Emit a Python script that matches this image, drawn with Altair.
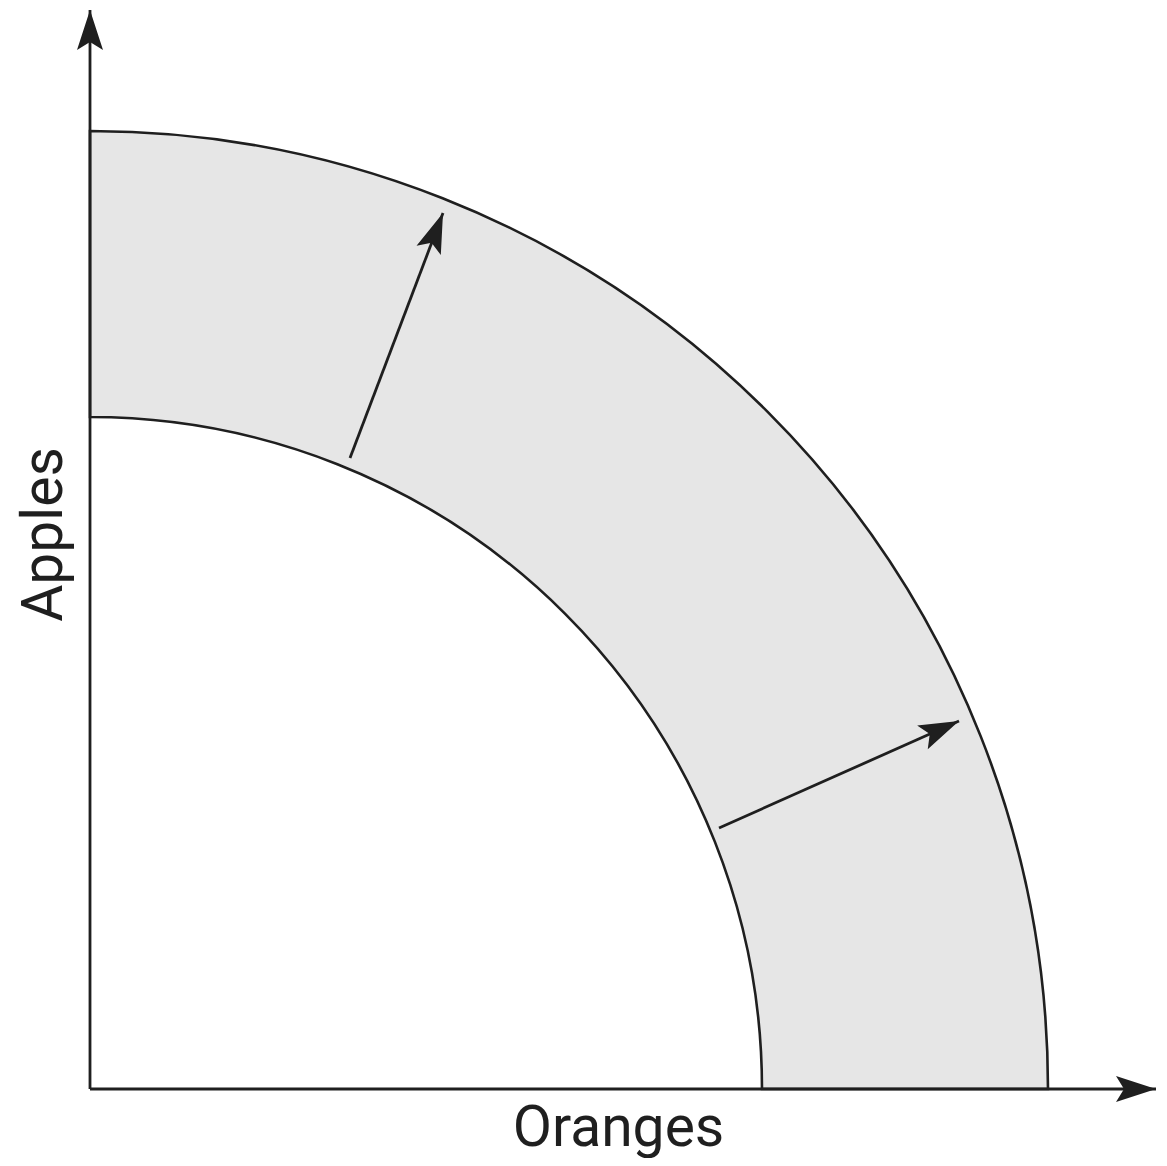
import altair as alt
import pandas as pd

# ---- values (1 data unit = 1 reference pixel) ----
# production possibilities frontiers (quarter circles around the origin)
frontier_inner_radius = [672]
frontier_outer_radius = [958]
frontier_start_deg = [0]
frontier_end_deg = [90]

# axes and shift arrows: start point, end (tip) point, heading in degrees
arrow_names = ["Apples axis", "Oranges axis", "shift 1", "shift 2"]
arrow_x0 = [0, 0, 260, 629]
arrow_y0 = [0, 0, 631, 261]
arrow_x1 = [0, 1066, 353, 869]
arrow_y1 = [1079, 0, 876, 368]
arrow_heading = [0, 90, 21, 66]

x_title = "Oranges"
y_title = "Apples"

W, H = 1067, 1081
INK = "#1f1f1f"

band_df = pd.DataFrame({
    "cx": [0], "cy": [0],
    "r_in": frontier_inner_radius, "r_out": frontier_outer_radius,
    "t0": frontier_start_deg, "t1": frontier_end_deg,
})
arrows_df = pd.DataFrame({
    "name": arrow_names, "x0": arrow_x0, "y0": arrow_y0,
    "x1": arrow_x1, "y1": arrow_y1, "heading": arrow_heading,
})

xs = alt.Scale(domain=[0, W], nice=False, zero=False)
ys = alt.Scale(domain=[0, H], nice=False, zero=False)

x_axis = alt.Axis(domain=False, ticks=False, labels=False, grid=False,
                  title=x_title, titleFont="Roboto", titleFontSize=57,
                  titleFontWeight="normal", titleColor=INK,
                  titleX=528, titleY=56, titleAlign="center",
                  titleBaseline="alphabetic", titleAngle=0)
y_axis = alt.Axis(domain=False, ticks=False, labels=False, grid=False,
                  title=y_title, titleFont="Roboto", titleFontSize=57,
                  titleFontWeight="normal", titleColor=INK,
                  titleX=-29, titleY=526, titleAlign="center",
                  titleBaseline="alphabetic", titleAngle=270)

band = alt.Chart(band_df).mark_arc(
    fill="#e6e6e6", stroke=INK, strokeWidth=2.6
).encode(
    x=alt.X("cx:Q", scale=xs, axis=x_axis),
    y=alt.Y("cy:Q", scale=ys, axis=y_axis),
    radius=alt.Radius("r_out:Q", scale=alt.Scale(type="linear", domain=[0, W], range=[0, W], zero=True)),
    radius2="r_in:Q",
    theta=alt.Theta("t0:Q", scale=alt.Scale(domain=[0, 360]), stack=False),
    theta2="t1:Q",
)

shafts = alt.Chart(arrows_df).mark_rule(color=INK, strokeWidth=2.8).encode(
    x=alt.X("x0:Q", scale=xs),
    y=alt.Y("y0:Q", scale=ys),
    x2="x1:Q",
    y2="y1:Q",
)

ARROW = "M0,0 L0.65,2 L0,1.6 L-0.65,2 Z"
heads = alt.Chart(arrows_df).mark_point(
    shape=ARROW, size=1600, filled=True, fill=INK, strokeWidth=0, opacity=1
).encode(
    x=alt.X("x1:Q", scale=xs),
    y=alt.Y("y1:Q", scale=ys),
    angle=alt.Angle("heading:Q", scale=alt.Scale(domain=[0, 360], range=[0, 360])),
)

chart = alt.layer(band, shafts, heads).properties(
    width=W, height=H,
    autosize=alt.AutoSizeParams(type="none"),
    padding={"left": 82, "top": 0, "right": 2, "bottom": 69},
    background="white",
).configure_view(stroke=None)

chart.save("out.html", embed_options={"renderer": "svg", "actions": False})
